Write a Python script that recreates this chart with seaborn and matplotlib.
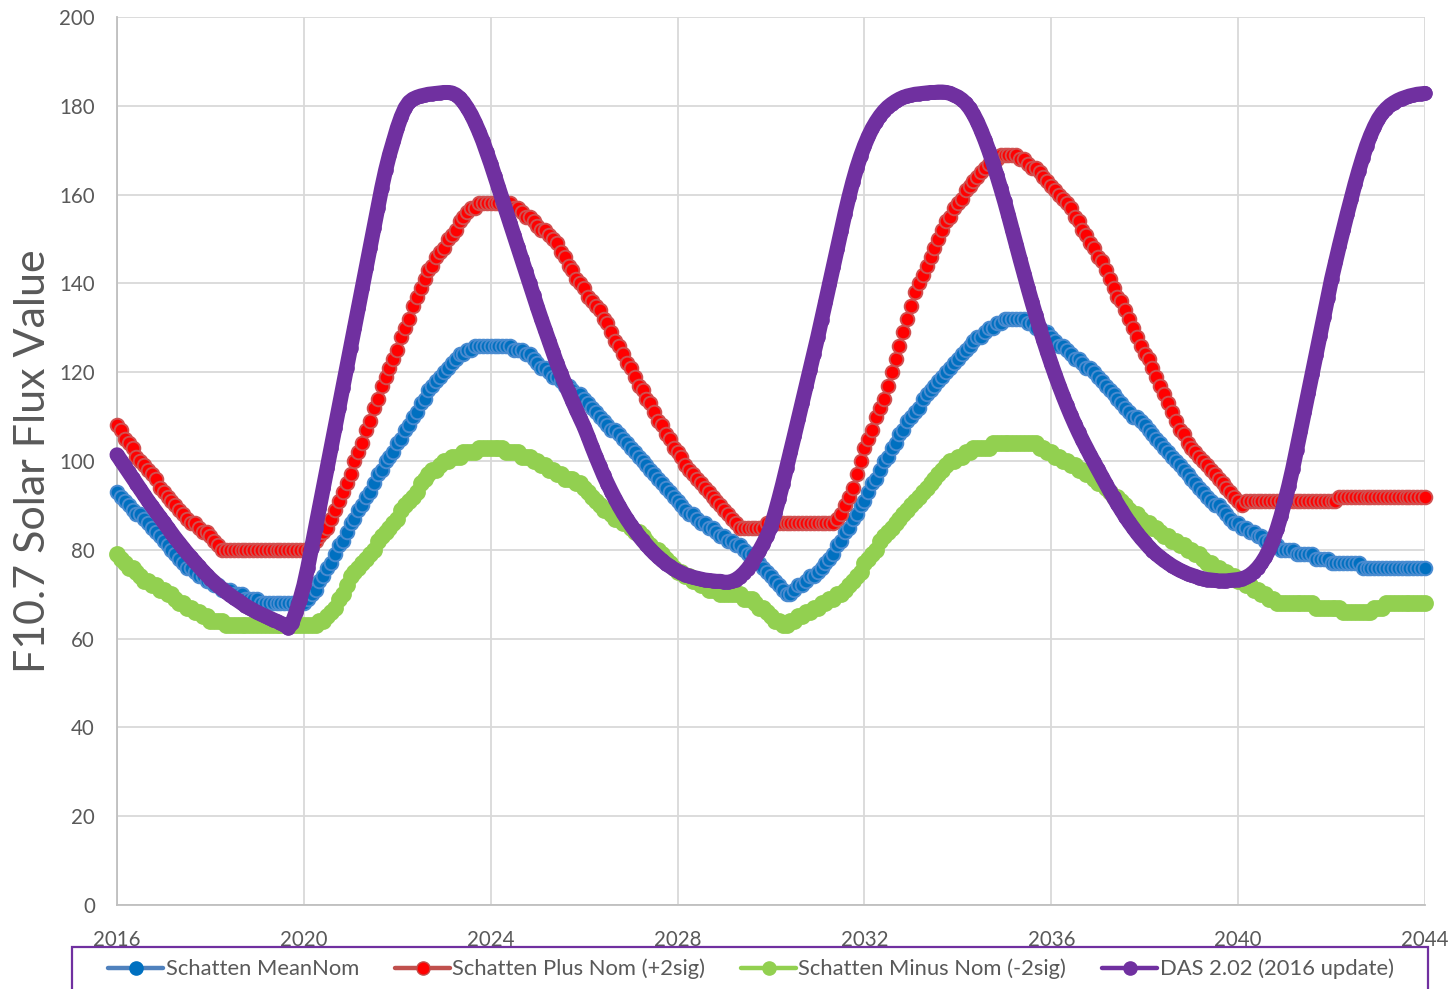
import numpy as np
import pandas as pd
import matplotlib
matplotlib.use("Agg")
import matplotlib.pyplot as plt
from matplotlib.lines import Line2D
from matplotlib.patches import Rectangle
import seaborn as sns

# Monthly F10.7 solar flux forecasts, Jan 2016 .. Jan 2044 (one row per year)
start_year = 2016
mean_nom = [
    93, 92, 91, 90, 89, 88, 88, 87, 86, 85, 84, 83,
    82, 81, 80, 79, 78, 77, 76, 76, 75, 74, 74, 73,
    73, 72, 72, 71, 71, 71, 70, 70, 70, 69, 69, 69,
    69, 68, 68, 68, 68, 68, 68, 68, 68, 68, 68, 68,
    68, 69, 70, 71, 73, 74, 76, 77, 79, 81, 82, 84,
    86, 87, 89, 90, 92, 93, 95, 97, 98, 100, 101, 102,
    104, 105, 107, 108, 110, 111, 113, 114, 116, 117, 118, 119,
    120, 121, 122, 123, 124, 124, 125, 125, 126, 126, 126, 126,
    126, 126, 126, 126, 126, 126, 125, 125, 125, 124, 124, 123,
    122, 121, 121, 120, 119, 119, 118, 117, 117, 116, 115, 115,
    114, 113, 112, 111, 110, 109, 108, 107, 107, 106, 105, 104,
    103, 102, 101, 100, 99, 98, 97, 96, 95, 94, 93, 92,
    91, 90, 89, 88, 88, 87, 86, 86, 85, 85, 84, 83,
    83, 82, 82, 81, 81, 80, 79, 79, 78, 77, 76, 75,
    74, 73, 72, 71, 70, 70, 71, 72, 72, 73, 74, 74,
    75, 76, 77, 78, 79, 81, 82, 84, 85, 87, 88, 90,
    91, 93, 95, 96, 98, 100, 101, 103, 104, 106, 107, 109,
    110, 111, 112, 114, 115, 116, 117, 118, 119, 120, 121, 122,
    123, 124, 125, 126, 127, 128, 128, 129, 130, 130, 131, 131,
    132, 132, 132, 132, 132, 132, 131, 131, 130, 130, 129, 129,
    128, 127, 126, 126, 125, 124, 123, 123, 122, 121, 121, 120,
    119, 118, 117, 116, 115, 114, 113, 112, 111, 110, 110, 109,
    108, 107, 106, 105, 104, 103, 102, 101, 100, 99, 98, 97,
    96, 95, 94, 93, 92, 91, 90, 90, 89, 88, 87, 86,
    86, 85, 85, 84, 84, 83, 83, 82, 82, 81, 81, 80,
    80, 80, 80, 79, 79, 79, 79, 79, 78, 78, 78, 78,
    77, 77, 77, 77, 77, 77, 77, 77, 76, 76, 76, 76,
    76, 76, 76, 76, 76, 76, 76, 76, 76, 76, 76, 76,
    76,
]
plus_nom = [
    108, 107, 105, 104, 103, 101, 100, 99, 98, 97, 96, 94,
    93, 92, 91, 90, 89, 88, 87, 86, 86, 85, 84, 84,
    83, 82, 81, 80, 80, 80, 80, 80, 80, 80, 80, 80,
    80, 80, 80, 80, 80, 80, 80, 80, 80, 80, 80, 80,
    80, 80, 81, 82, 83, 84, 85, 87, 89, 91, 93, 95,
    97, 100, 102, 104, 107, 109, 112, 114, 117, 119, 121, 123,
    125, 128, 130, 132, 135, 137, 139, 141, 143, 144, 146, 147,
    148, 150, 151, 152, 154, 155, 156, 157, 157, 158, 158, 158,
    158, 158, 158, 158, 158, 158, 157, 157, 156, 155, 155, 154,
    153, 152, 152, 151, 150, 149, 147, 146, 144, 143, 141, 140,
    139, 137, 136, 135, 134, 132, 131, 129, 127, 126, 124, 122,
    121, 119, 117, 116, 114, 113, 111, 109, 108, 106, 105, 103,
    102, 101, 99, 98, 97, 96, 95, 94, 93, 92, 91, 90,
    89, 88, 87, 86, 85, 85, 85, 85, 85, 85, 85, 86,
    86, 86, 86, 86, 86, 86, 86, 86, 86, 86, 86, 86,
    86, 86, 86, 86, 86, 87, 88, 90, 92, 94, 97, 100,
    103, 105, 107, 110, 112, 114, 117, 120, 123, 126, 129, 132,
    135, 138, 140, 142, 144, 146, 148, 150, 152, 154, 155, 157,
    158, 159, 161, 162, 163, 164, 165, 166, 167, 168, 168, 169,
    169, 169, 169, 169, 168, 168, 167, 166, 166, 165, 164, 163,
    162, 161, 160, 159, 158, 157, 155, 154, 152, 151, 149, 148,
    146, 145, 143, 141, 139, 137, 136, 134, 132, 130, 128, 126,
    124, 123, 121, 119, 117, 115, 113, 111, 109, 107, 106, 104,
    103, 102, 101, 100, 99, 98, 97, 96, 95, 94, 93, 92,
    91, 90, 91, 91, 91, 91, 91, 91, 91, 91, 91, 91,
    91, 91, 91, 91, 91, 91, 91, 91, 91, 91, 91, 91,
    91, 91, 92, 92, 92, 92, 92, 92, 92, 92, 92, 92,
    92, 92, 92, 92, 92, 92, 92, 92, 92, 92, 92, 92,
    92,
]
minus_nom = [
    79, 78, 77, 76, 76, 75, 74, 73, 73, 72, 72, 71,
    71, 70, 70, 69, 68, 68, 67, 67, 66, 66, 65, 65,
    64, 64, 64, 64, 63, 63, 63, 63, 63, 63, 63, 63,
    63, 63, 63, 63, 63, 63, 63, 63, 63, 63, 63, 63,
    63, 63, 63, 63, 64, 64, 65, 66, 67, 69, 70, 72,
    74, 75, 76, 77, 78, 79, 80, 82, 83, 84, 85, 86,
    87, 89, 90, 91, 92, 93, 95, 96, 97, 98, 98, 99,
    100, 100, 101, 101, 101, 102, 102, 102, 102, 103, 103, 103,
    103, 103, 103, 103, 102, 102, 102, 102, 101, 101, 101, 100,
    100, 99, 99, 98, 98, 97, 97, 96, 96, 96, 95, 95,
    94, 93, 92, 91, 90, 89, 89, 88, 87, 87, 86, 86,
    85, 84, 84, 83, 82, 81, 80, 80, 79, 78, 77, 76,
    75, 75, 74, 74, 73, 73, 72, 72, 71, 71, 71, 70,
    70, 70, 70, 70, 70, 69, 69, 69, 68, 67, 67, 66,
    65, 64, 64, 63, 63, 64, 64, 65, 65, 66, 66, 67,
    67, 68, 68, 69, 69, 70, 70, 71, 72, 73, 74, 75,
    77, 78, 79, 80, 82, 83, 84, 85, 86, 87, 88, 89,
    90, 91, 92, 93, 94, 95, 96, 97, 98, 99, 100, 100,
    101, 101, 102, 102, 103, 103, 103, 103, 103, 104, 104, 104,
    104, 104, 104, 104, 104, 104, 104, 104, 104, 103, 103, 102,
    102, 101, 101, 100, 100, 99, 99, 98, 98, 97, 97, 96,
    95, 95, 94, 93, 92, 92, 91, 90, 89, 88, 88, 87,
    86, 86, 85, 85, 84, 83, 83, 82, 82, 81, 81, 80,
    80, 79, 79, 78, 77, 77, 76, 76, 75, 75, 74, 74,
    73, 73, 72, 72, 71, 71, 70, 70, 69, 69, 68, 68,
    68, 68, 68, 68, 68, 68, 68, 68, 67, 67, 67, 67,
    67, 67, 67, 66, 66, 66, 66, 66, 66, 66, 66, 67,
    67, 67, 68, 68, 68, 68, 68, 68, 68, 68, 68, 68,
    68,
]
das_202 = [
    101.4, 100.1, 98.8, 97.5, 96.2, 94.9, 93.6, 92.3, 91.0, 89.8, 88.6, 87.4,
    86.2, 85.0, 83.8, 82.6, 81.5, 80.4, 79.3, 78.3, 77.3, 76.3, 75.3, 74.4,
    73.5, 72.7, 71.9, 71.2, 70.5, 69.8, 69.2, 68.6, 68.0, 67.4, 66.9, 66.4,
    65.9, 65.5, 65.1, 64.7, 64.3, 63.9, 63.5, 63.1, 62.4, 63.6, 66.0, 68.8,
    72.0, 76.0, 80.5, 85.0, 89.5, 94.0, 98.5, 103.0, 107.5, 112.0, 116.5, 121.0,
    125.5, 130.0, 134.5, 139.0, 143.5, 148.0, 152.5, 157.0, 161.5, 165.5, 169.0, 172.0,
    175.0, 177.5, 179.5, 180.8, 181.5, 181.9, 182.2, 182.4, 182.6, 182.7, 182.8, 182.9,
    183.0, 183.0, 182.9, 182.5, 181.8, 180.8, 179.5, 178.0, 176.2, 174.2, 172.0, 169.5,
    167.0, 164.3, 161.6, 158.9, 156.2, 153.5, 150.8, 148.1, 145.4, 142.7, 140.0, 137.3,
    134.6, 132.0, 129.5, 127.0, 124.5, 122.0, 119.8, 117.6, 115.5, 113.5, 111.5, 109.6,
    107.7, 105.5, 103.2, 101.0, 98.9, 96.8, 94.9, 93.1, 91.4, 89.8, 88.3, 86.9,
    85.6, 84.4, 83.2, 82.1, 81.1, 80.1, 79.2, 78.4, 77.6, 76.9, 76.3, 75.7,
    75.2, 74.8, 74.4, 74.1, 73.8, 73.6, 73.4, 73.2, 73.1, 73.0, 72.9, 72.9,
    72.7, 72.7, 72.9, 73.3, 73.9, 74.7, 75.7, 76.9, 78.3, 79.8, 81.4, 83.2,
    85.2, 88.2, 91.4, 94.8, 98.4, 102.0, 105.7, 109.4, 113.1, 116.8, 120.5, 124.2,
    127.9, 131.8, 135.8, 139.8, 143.8, 147.8, 151.8, 155.7, 159.4, 162.8, 165.9, 168.6,
    171.0, 173.1, 174.9, 176.4, 177.7, 178.8, 179.7, 180.4, 181.0, 181.5, 181.9, 182.2,
    182.4, 182.6, 182.7, 182.8, 182.9, 183.0, 183.0, 183.1, 183.1, 183.0, 182.8, 182.4,
    182.0, 181.4, 180.6, 179.5, 178.1, 176.4, 174.4, 172.2, 169.8, 167.2, 164.4, 161.5,
    158.5, 155.3, 152.0, 148.7, 145.4, 142.2, 139.0, 135.9, 132.9, 130.0, 127.2, 124.5,
    121.9, 119.4, 117.0, 114.7, 112.5, 110.4, 108.4, 106.5, 104.7, 103.0, 101.3, 99.7,
    98.1, 96.5, 94.9, 93.3, 91.8, 90.3, 88.9, 87.5, 86.2, 85.0, 83.8, 82.7,
    81.7, 80.7, 79.8, 79.0, 78.3, 77.6, 77.0, 76.4, 75.9, 75.4, 75.0, 74.6,
    74.3, 74.0, 73.7, 73.5, 73.3, 73.2, 73.1, 73.0, 73.0, 73.0, 73.1, 73.2,
    73.3, 73.5, 73.8, 74.3, 75.0, 75.9, 77.0, 78.4, 80.1, 82.2, 84.7, 87.6,
    90.9, 94.4, 98.2, 102.4, 106.7, 111.0, 115.3, 119.6, 123.9, 128.2, 132.5, 136.8,
    141.0, 144.8, 148.5, 152.1, 155.6, 159.0, 162.3, 165.4, 168.3, 171.0, 173.3, 175.3,
    177.0, 178.3, 179.3, 180.1, 180.7, 181.2, 181.6, 181.9, 182.2, 182.4, 182.6, 182.7,
    182.8,
]

series_names = [
    "Schatten MeanNom",
    "Schatten Plus Nom (+2sig)",
    "Schatten Minus Nom (-2sig)",
    "DAS 2.02 (2016 update)",
]
x_ticks = [2016, 2020, 2024, 2028, 2032, 2036, 2040, 2044]
y_ticks = [0, 20, 40, 60, 80, 100, 120, 140, 160, 180, 200]
y_label = "F10.7 Solar Flux Value"

# decimal-year time axis, one sample per month
months = np.arange(len(mean_nom))
df = pd.DataFrame({
    "year": start_year + months / 12.0,
    series_names[0]: mean_nom,
    series_names[1]: plus_nom,
    series_names[2]: minus_nom,
    series_names[3]: das_202,
})

sns.set_theme(style="white")
plt.rcParams["font.family"] = ["Lato", "DejaVu Sans"]

W, H = 1454, 989
fig = plt.figure(figsize=(W / 100, H / 100), dpi=100)
ax = fig.add_axes([117 / W, 1 - 905 / H, (1425 - 117) / W, (905 - 17) / H])

styles = {
    series_names[0]: dict(line="#4f81bd", face="#0070c0", edge="#4a8bd0", ms=9.8, mew=1.4, lw=2.0),
    series_names[1]: dict(line="#c0504d", face="#ff0000", edge="#d05050", ms=9.8, mew=1.4, lw=2.0),
    series_names[2]: dict(line="#92d050", face="#92d050", edge="#92d050", ms=10.6, mew=1.5, lw=2.0),
    series_names[3]: dict(line="#7030a0", face="#7030a0", edge="#7030a0", ms=9.5, mew=1.0, lw=10.8),
}

for name in series_names:
    st = styles[name]
    sns.lineplot(
        data=df, x="year", y=name, ax=ax, sort=False, estimator=None,
        color=st["line"], linewidth=st["lw"], marker="o",
        markersize=st["ms"], markerfacecolor=st["face"],
        markeredgecolor=st["edge"], markeredgewidth=st["mew"],
        solid_capstyle="round", solid_joinstyle="round",
        clip_on=False, zorder=3, legend=False,
    )

ax.set_xlim(2016, 2044)
ax.set_ylim(0, 200)
ax.set_xticks(x_ticks)
ax.set_yticks(y_ticks)
ax.set_xticklabels([str(v) for v in x_ticks])
ax.set_yticklabels([str(v) for v in y_ticks])
ax.set_xlabel("")
ax.set_ylabel("")
ax.grid(True, color="#d9d9d9", linewidth=1.3, zorder=0)
ax.set_axisbelow(True)
for side in ["top", "right"]:
    ax.spines[side].set_visible(False)
for side in ["left", "bottom"]:
    ax.spines[side].set_color("#bfbfbf")
    ax.spines[side].set_linewidth(1.3)
ax.tick_params(axis="both", length=0, labelsize=14.8, labelcolor="#595959")
ax.tick_params(axis="x", pad=18)
ax.tick_params(axis="y", pad=16)

fig.text(33 / W, 1 - 461 / H, y_label, rotation=90, ha="center", va="center",
         fontsize=31, color="#595959")

# legend below the plot, framed in purple
handles = []
for name in series_names:
    st = styles[name]
    handles.append(Line2D([0], [0], color=st["line"], lw=3.2, marker="o",
                          markersize=9.5, markerfacecolor=st["face"],
                          markeredgecolor=st["face"] if name != series_names[1] else st["line"],
                          markeredgewidth=1.0))
leg = fig.legend(handles, series_names, loc="center", ncol=4,
                 bbox_to_anchor=(751 / W, 1 - 969 / H), frameon=False,
                 fontsize=15.8, handlelength=2.5, handletextpad=0.1,
                 columnspacing=1.65, labelcolor="#595959")
fig.add_artist(Rectangle((72 / W, -0.02), (1428 - 72) / W, 0.02 + (989 - 947) / H,
                         transform=fig.transFigure, fill=False,
                         edgecolor="#7030a0", linewidth=1.6, clip_on=False))

fig.savefig("out.png", dpi=100)
